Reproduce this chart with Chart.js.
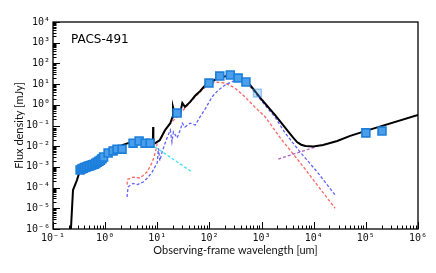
<!DOCTYPE html>
<html lang="en">
<head>
<meta charset="UTF-8">
<title>PACS-491 SED</title>
<script src="https://cdn.jsdelivr.net/npm/chart.js"></script>
<style> body { margin: 0; background: #fff; } canvas { display: block; } </style>
</head>
<body>
<canvas id="sed" width="436" height="273"></canvas>
<script>
// photometry (um, mJy)
const photWave = [0.331, 0.355, 0.380, 0.407, 0.437, 0.468, 0.501, 0.537, 0.575, 0.617, 0.661, 0.708, 0.759, 0.813, 0.871, 0.933,
    1.14, 1.42, 1.69, 2.11, 3.43, 4.48, 5.83, 7.28, 24, 98, 158, 251, 355, 501, 1e5, 2.04e5];
const photFlux = [7.1e-4, 7.9e-4, 8.5e-4, 9.3e-4, 1.0e-3, 1.07e-3, 1.12e-3, 1.2e-3, 1.26e-3, 1.35e-3, 1.48e-3, 1.66e-3, 1.86e-3, 2.1e-3, 2.5e-3, 3.0e-3,
    4.7e-3, 5.9e-3, 7.2e-3, 7.2e-3, 1.4e-2, 1.78e-2, 1.4e-2, 1.4e-2, 0.4, 11.2, 24.5, 27.5, 19.5, 12.6, 0.044, 0.054];
const limWave = [832];
const limFlux = [3.7];

// total model
const totalWave = [0.215, 0.242, 0.288, 0.331, 0.513, 1.0, 1.55, 2.19, 2.75, 4.27, 7.24, 8.22, 8.32, 8.41, 9.12, 11.2, 14.1, 17.8, 19.5, 20.0,
    21.9, 27.5, 30.2, 33.9, 42.7, 53.7, 66, 79, 98, 158, 251, 355, 603, 1023, 1820, 3090, 4000, 4790, 5750, 6920, 9770, 15100, 28200, 50100, 1e5, 1e6];
const totalFlux = [3e-7, 7.6e-5, 2.3e-4, 7.1e-4, 1.1e-3, 3.5e-3, 7.9e-3, 1.15e-2, 1.4e-2, 1.6e-2, 1.4e-2, 1.4e-2, 8.5e-2, 1.4e-2, 1.4e-2, 2.0e-2,
    6.0e-2, 0.13, 0.25, 0.79, 0.32, 0.4, 1.23, 0.79, 1.38, 2.8, 4.5, 7.6, 11.2, 21.9, 25.1, 20, 9.1, 1.7, 0.32, 0.06, 0.027, 0.0158, 0.0118, 0.0102, 0.0098, 0.0115,
    0.0178, 0.0316, 0.055, 0.32];

// red dashed component
const warmWave = [2.63, 2.69, 3.43, 4.68, 6.31, 7.94, 9.12, 10.0, 11.2, 14.1, 17.8, 27.5, 42.7, 66, 98, 129, 200, 309, 479, 741, 1175, 2290, 5500, 25700];
const warmFlux = [1.4e-4, 2.5e-4, 3.2e-4, 2.9e-4, 5.6e-4, 1.6e-3, 4.7e-3, 1.4e-2, 1.9e-2, 5.6e-2, 0.125, 0.38, 1.32, 4.2, 10, 12.6, 11.2, 6.5, 2.4, 0.79, 0.26, 0.025, 1.6e-3, 1.0e-5];

// blue dashed component
const coldWave = [2.63, 2.75, 3.16, 3.43, 4.17, 5.37, 6.46, 7.94, 10.0, 10.5, 11.2, 12.3, 14.1, 16.2, 17.8, 19.1, 20.4, 24.0, 27.5, 30.2, 33.9,
    42.7, 53.7, 66, 83, 112, 148, 200, 275, 331, 398, 501, 603, 1023, 1820, 2820, 5500, 11750, 25700];
const coldFlux = [3.5e-5, 1.07e-4, 1.4e-4, 1.6e-4, 1.4e-4, 1.86e-4, 2.9e-4, 5.6e-4, 1.6e-3, 7.9e-3, 2.0e-3, 5.0e-3, 1.4e-2, 3.5e-2, 6.0e-2, 1.6e-2,
    4.9e-2, 2.5e-2, 6.0e-2, 0.13, 8.5e-2, 0.13, 0.105, 0.26, 0.63, 2.4, 5.1, 9.1, 13.2, 15.8, 15.1, 10.5, 7.6, 1.41, 0.25, 0.044, 5.2e-3, 5.6e-4, 4.4e-5];

// cyan dashed (stellar tail) and purple dashed (radio)
const starWave = [9.12, 46.8];
const starFlux = [9.1e-3, 5.6e-4];
const radioWave = [2090, 11200];
const radioFlux = [2.4e-3, 9.5e-3];

const xDecades = [-1, 0, 1, 2, 3, 4, 5, 6];
const yDecades = [-6, -5, -4, -3, -2, -1, 0, 1, 2, 3, 4];

const sup = { '-': '\u207B', '0': '\u2070', '1': '\u00B9', '2': '\u00B2', '3': '\u00B3', '4': '\u2074', '5': '\u2075', '6': '\u2076' };
const powLabel = v => '10' + String(Math.round(Math.log10(v))).split('').map(c => sup[c]).join('');
const pts = (xs, ys) => xs.map((x, i) => ({ x: x, y: ys[i] }));

const dashLine = (data, color, order) => ({
    data: data, showLine: true, borderColor: color, borderWidth: 1.3, borderDash: [3, 2],
    pointRadius: 0, tension: 0, order: order
});

const frameTicks = {
    id: 'frameTicks',
    afterDraw(chart) {
        const { ctx, chartArea: { left, right, top, bottom }, scales: { x, y } } = chart;
        ctx.save();
        ctx.strokeStyle = '#000';
        ctx.lineWidth = 1;
        ctx.beginPath();
        xDecades.forEach(n => {
            for (let k = 1; k <= 9; k++) {
                const v = k * Math.pow(10, n);
                const px = Math.round(x.getPixelForValue(v)) + 0.5;
                if (px < left - 1 || px > right + 1) continue;
                const len = k === 1 ? 7 : 3.5;
                ctx.moveTo(px, bottom); ctx.lineTo(px, bottom - len);
            }
        });
        yDecades.forEach(n => {
            for (let k = 1; k <= 9; k++) {
                const v = k * Math.pow(10, n);
                const py = Math.round(y.getPixelForValue(v)) + 0.5;
                if (py < top - 1 || py > bottom + 1) continue;
                const len = k === 1 ? 7 : 3.5;
                ctx.moveTo(left, py); ctx.lineTo(left + len, py);
            }
        });
        ctx.stroke();
        ctx.lineWidth = 1.3;
        ctx.strokeRect(left, top, right - left, bottom - top);
        ctx.fillStyle = '#000';
        ctx.font = '12px "DejaVu Sans"';
        ctx.textBaseline = 'alphabetic';
        ctx.fillText('PACS-491', left + 18, top + 21);
        ctx.restore();
    }
};

new Chart(document.getElementById('sed'), {
    type: 'scatter',
    data: {
        datasets: [
            { data: pts(photWave, photFlux), pointStyle: 'rect', pointRadius: 5.6, backgroundColor: '#4a9eea', borderColor: '#1c7fdc', borderWidth: 1.6, order: 0 },
            { data: pts(limWave, limFlux), pointStyle: 'rect', pointRadius: 5.6, backgroundColor: 'rgba(74,158,234,0.3)', borderColor: 'rgba(28,127,220,0.4)', borderWidth: 1.4, order: 1 },
            { data: pts(totalWave, totalFlux), showLine: true, borderColor: '#000', borderWidth: 2, pointRadius: 0, tension: 0, order: 2 },
            dashLine(pts(radioWave, radioFlux), '#b25ec8', 3),
            dashLine(pts(starWave, starFlux), '#3fe2ee', 4),
            dashLine(pts(coldWave, coldFlux), '#6262ff', 5),
            dashLine(pts(warmWave, warmFlux), '#ff6464', 6)
        ]
    },
    options: {
        responsive: false,
        animation: false,
        layout: { padding: { top: 22, right: 18, left: 0, bottom: 0 } },
        plugins: { legend: { display: false }, tooltip: { enabled: false } },
        scales: {
            x: {
                type: 'logarithmic', min: 0.1, max: 1e6,
                afterBuildTicks: s => { s.ticks = xDecades.map(n => ({ value: Math.pow(10, n) })); },
                afterFit: s => { s.height = 44; },
                grid: { display: false, drawTicks: false },
                border: { display: false },
                ticks: { callback: powLabel, autoSkip: false, maxRotation: 0, padding: 3, color: '#111', font: { family: '"DejaVu Sans Mono"', size: 10 } },
                title: { display: true, text: 'Observing-frame wavelength [um]', color: '#111', font: { family: 'Lato', size: 11 }, padding: { top: 0, bottom: 16 } }
            },
            y: {
                type: 'logarithmic', min: 1e-6, max: 1e4,
                afterBuildTicks: s => { s.ticks = yDecades.map(n => ({ value: Math.pow(10, n) })); },
                afterFit: s => { s.width = 53; },
                grid: { display: false, drawTicks: false },
                border: { display: false },
                ticks: { callback: powLabel, autoSkip: false, padding: 3, color: '#111', font: { family: '"DejaVu Sans Mono"', size: 10 } },
                title: { display: true, text: 'Flux density [mJy]', color: '#111', font: { family: 'Lato', size: 11 }, padding: { top: 13, bottom: 0 } }
            }
        }
    },
    plugins: [frameTicks]
});
</script>
</body>
</html>
